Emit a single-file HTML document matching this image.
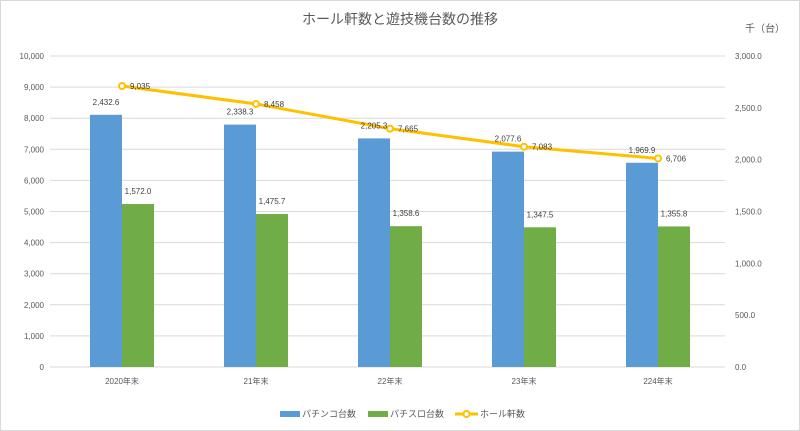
<!DOCTYPE html>
<html><head><meta charset="utf-8"><style>
body{margin:0;background:#fff}
svg{display:block;font-family:"Liberation Sans","Noto Sans CJK JP",sans-serif}
</style></head><body>
<svg width="800" height="431" viewBox="0 0 800 431">
<rect x="0.5" y="0.5" width="799" height="430" fill="#fff" stroke="#d9d9d9"/>
<text x="400" y="24" text-anchor="middle" font-size="14" fill="#595959">ホール軒数と遊技機台数の推移</text>
<text x="765" y="32" text-anchor="middle" font-size="10" fill="#595959">千（台）</text>
<g id="grid"></g><g id="bars"></g><g id="line"></g><g id="labels"></g>
<g>
<rect x="280" y="411" width="20" height="6" fill="#5b9bd5"/>
<text x="302" y="417" font-size="9" fill="#595959">パチンコ台数</text>
<rect x="368" y="411" width="20" height="6" fill="#70ad47"/>
<text x="390" y="417" font-size="9" fill="#595959">パチスロ台数</text>
<line x1="455" y1="414" x2="478" y2="414" stroke="#ffc000" stroke-width="3"/>
<circle cx="466.5" cy="414" r="3" fill="#fff" stroke="#ffc000" stroke-width="2"/>
<text x="480" y="417" font-size="9" fill="#595959">ホール軒数</text>
</g>
</svg>
<script>
const categories=["2020年末","21年末","22年末","23年末","224年末"];
const pachinko=[2432.6,2338.3,2205.3,2077.6,1969.9];
const pachislot=[1572.0,1475.7,1358.6,1347.5,1355.8];
const halls=[9035,8458,7665,7083,6706];
const leftTicks=[0,1000,2000,3000,4000,5000,6000,7000,8000,9000,10000];
const rightTicks=[0,500,1000,1500,2000,2500,3000];
const NS="http://www.w3.org/2000/svg";
const x0=55,x1=725,yB=367,yT=56;
const yL=v=>yB-(v/10000)*(yB-yT);
const yR=v=>yB-(v/3000)*(yB-yT);
const band=(x1-x0)/categories.length;
const xc=i=>x0+band*(i+0.5);
function mk(tag,attrs,parent,text){const e=document.createElementNS(NS,tag);for(const k in attrs)e.setAttribute(k,attrs[k]);if(text!==undefined)e.textContent=text;document.getElementById(parent).appendChild(e);return e;}
const fmt0=v=>v.toLocaleString("en-US");
const fmt1=v=>v.toLocaleString("en-US",{minimumFractionDigits:1,maximumFractionDigits:1});
leftTicks.forEach(t=>{
 const l=mk("line",{x1:50,x2:x1,y1:yL(t),y2:yL(t),stroke:"#d9d9d9","stroke-width":1},"grid");
 
 
 const tx=mk("text",{x:44,y:yL(t)+3,"text-anchor":"end","font-size":8,fill:"#595959"},"grid",fmt0(t));
 
 
});
rightTicks.forEach(t=>{
 const tx=mk("text",{x:735,y:yR(t)+3,"font-size":8,fill:"#595959"},"grid",fmt1(t));
 
 
});
const bw=32;
categories.forEach((c,i)=>{
 const cx=xc(i);
 const b=mk("rect",{x:cx-bw,y:yR(pachinko[i]),width:bw,height:yB-yR(pachinko[i]),fill:"#5b9bd5"},"bars");
 
 
 const g=mk("rect",{x:cx,y:yR(pachislot[i]),width:bw,height:yB-yR(pachislot[i]),fill:"#70ad47"},"bars");
 
 
 const t1=mk("text",{x:cx-bw/2,y:yR(pachinko[i])-10,"text-anchor":"middle","font-size":8,fill:"#404040"},"labels",fmt1(pachinko[i]));
 
 
 const t2=mk("text",{x:cx+bw/2,y:yR(pachislot[i])-10,"text-anchor":"middle","font-size":8,fill:"#404040"},"labels",fmt1(pachislot[i]));
 
 
 const cl=mk("text",{x:cx,y:384,"text-anchor":"middle","font-size":8,fill:"#595959"},"labels",c);
 
 
});
const pl=mk("polyline",{points:halls.map((v,i)=>xc(i)+","+yL(v)).join(" "),fill:"none",stroke:"#ffc000","stroke-width":3},"line");


halls.forEach((v,i)=>{
 const c=mk("circle",{cx:xc(i),cy:yL(v),r:3,fill:"#fff",stroke:"#ffc000","stroke-width":2},"line");
 
 
 const t=mk("text",{x:xc(i)+8,y:yL(v)+3,"font-size":8,fill:"#404040"},"labels",fmt0(v));
 
 
});
</script>
</body></html>
